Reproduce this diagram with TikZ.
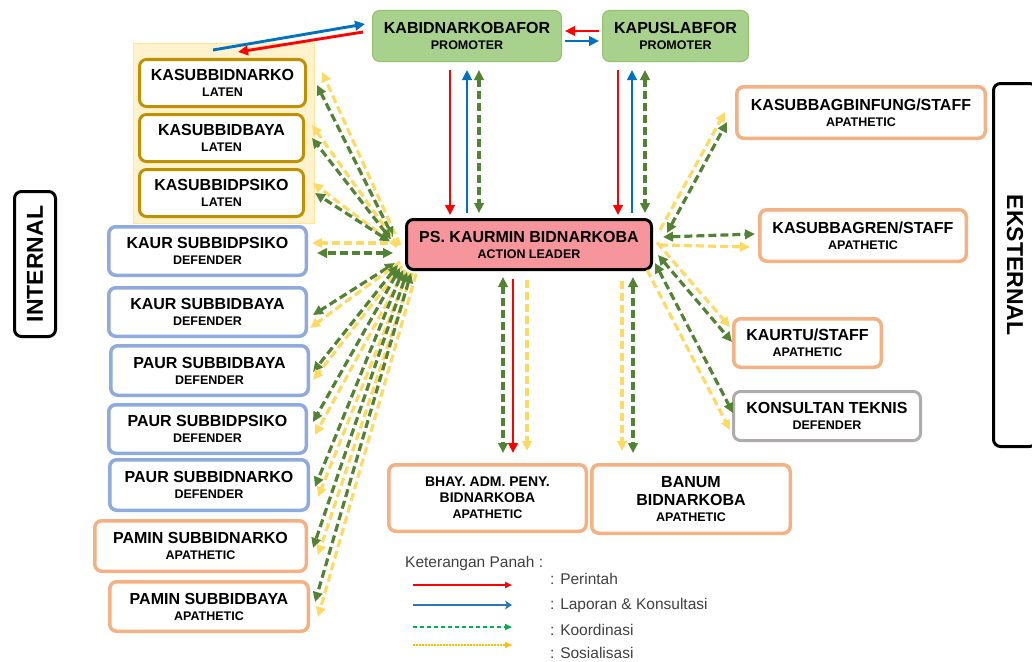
\documentclass[tikz,border=0pt]{standalone}
\usepackage{fontspec}
\setmainfont{Liberation Sans}
\usetikzlibrary{arrows.meta,calc}
\definecolor{cLat}{HTML}{BF9000}
\definecolor{cDef}{HTML}{8FAADC}
\definecolor{cApa}{HTML}{F4B183}
\definecolor{cGry}{HTML}{AFABAB}
\definecolor{cGrnFill}{HTML}{A9D18E}
\definecolor{cGrnDraw}{HTML}{92C06E}
\definecolor{cPink}{HTML}{F7959D}
\definecolor{cKoor}{HTML}{548235}
\definecolor{cSos}{HTML}{FFD966}
\definecolor{cRed}{HTML}{FF0000}
\definecolor{cBlue}{HTML}{0070C0}
\definecolor{cGrpFill}{HTML}{FFF2CC}
\definecolor{cGrpDraw}{HTML}{FFE699}
\definecolor{cLgGreen}{HTML}{00B050}
\definecolor{cLgYellow}{HTML}{FFC000}
\definecolor{cLgBlue}{HTML}{2E75B6}
\definecolor{cLgText}{HTML}{404040}
\newcommand{\twol}[2]{#1\\{\fontsize{12.5}{16}\selectfont #2}}
\begin{document}
\begin{tikzpicture}[x=1pt,y=-1pt,
  box/.style={rounded corners=7, line width=3, fill=white, align=center, inner sep=0,
    font=\bfseries\fontsize{16}{16}\selectfont},
  latbox/.style={box, draw=cLat},
  defbox/.style={box, draw=cDef, line width=3.5},
  apabox/.style={box, draw=cApa, line width=3.5},
  grybox/.style={box, draw=cGry},
  probox/.style={box, draw=cGrnDraw, line width=1, fill=cGrnFill},
  sidebox/.style={rounded corners=7, line width=3, draw=black, inner sep=0,
    font=\bfseries\fontsize{23}{25}\selectfont},
  tipA/.tip={Triangle[length=10pt,width=9.5pt]},
  redarr/.style={draw=cRed, line width=2.9, -tipA},
  bluarr/.style={draw=cBlue, line width=2.9, -tipA},
  koor/.style={draw=cKoor, line width=3.2, dash pattern=on 8pt off 4pt, tipA-tipA},
  sos/.style={draw=cSos, line width=3.2, dash pattern=on 8pt off 4pt, -tipA},
  lgtext/.style={anchor=west, text=cLgText, font=\fontsize{15.5}{17}\selectfont, inner sep=0}
]
\useasboundingbox (0,0) rectangle (1032,661);
\clip (0,0) rectangle (1032,661);

% group background
\node[draw=cGrpDraw, fill=cGrpFill, line width=1, minimum width=181, minimum height=180, inner sep=0] (grp) at (224,133.5) {};

% promoters
\node[probox, minimum width=189, minimum height=51] (kb) at (467,36) {\twol{KABIDNARKOBAFOR}{PROMOTER}};
\node[probox, minimum width=146, minimum height=51] (kp) at (675.5,36) {\twol{KAPUSLABFOR}{PROMOTER}};

% laten
\node[latbox, minimum width=166, minimum height=47] (l1) at (222.5,83) {\twol{KASUBBIDNARKO}{LATEN}};
\node[latbox, minimum width=164, minimum height=47] (l2) at (221.5,138) {\twol{KASUBBIDBAYA}{LATEN}};
\node[latbox, minimum width=164, minimum height=47] (l3) at (221.5,193) {\twol{KASUBBIDPSIKO}{LATEN}};

% defenders
\node[defbox, minimum width=197.5, minimum height=48.5] (d1) at (207.5,251) {\twol{KAUR SUBBIDPSIKO}{DEFENDER}};
\node[defbox, minimum width=197.5, minimum height=48.5] (d2) at (207.5,312) {\twol{KAUR SUBBIDBAYA}{DEFENDER}};
\node[defbox, minimum width=197.5, minimum height=49.5] (d3) at (209.5,370.5) {\twol{PAUR SUBBIDBAYA}{DEFENDER}};
\node[defbox, minimum width=197.5, minimum height=48.5] (d4) at (207.5,429) {\twol{PAUR SUBBIDPSIKO}{DEFENDER}};
\node[defbox, minimum width=198.5, minimum height=50.5] (d5) at (209,485) {\twol{PAUR SUBBIDNARKO}{DEFENDER}};

% apathetic left
\node[apabox, minimum width=211.5, minimum height=50.5] (a1) at (200.5,546) {\twol{PAMIN SUBBIDNARKO}{APATHETIC}};
\node[apabox, minimum width=198.5, minimum height=49.5] (a2) at (209,606.5) {\twol{PAMIN SUBBIDBAYA}{APATHETIC}};

% side labels
\node[sidebox, rotate=90, minimum width=145, minimum height=41] (int) at (35,264) {INTERNAL};
\node[sidebox, rotate=-90, minimum width=363, minimum height=43] (ext) at (1015,265) {EKSTERNAL};

% right boxes
\node[apabox, minimum width=248.5, minimum height=51.5] (r1) at (861,112.5) {\twol{KASUBBAGBINFUNG/STAFF}{APATHETIC}};
\node[apabox, minimum width=206.5, minimum height=51.5] (r2) at (863,235.5) {\twol{KASUBBAGREN/STAFF}{APATHETIC}};
\node[apabox, minimum width=147.5, minimum height=48.5] (r3) at (807.5,343) {\twol{KAURTU/STAFF}{APATHETIC}};
\node[grybox, minimum width=187, minimum height=49] (r4) at (827,416) {\twol{KONSULTAN TEKNIS}{DEFENDER}};

% center
\node[box, draw=black, fill=cPink, minimum width=245, minimum height=50] (c) at (529,244.5) {\twol{PS. KAURMIN BIDNARKOBA}{ACTION LEADER}};

% bottom boxes
\node[apabox, minimum width=197.5, minimum height=66.5] (b1) at (487.5,498)
  {{\fontsize{14}{16.5}\selectfont BHAY. ADM. PENY.}\\{\fontsize{14}{16.5}\selectfont BIDNARKOBA}\\{\fontsize{12.5}{15}\selectfont APATHETIC}};
\node[apabox, minimum width=198.5, minimum height=68.5] (b2) at (691,499)
  {BANUM\\[1.5pt]BIDNARKOBA\\{\fontsize{12.5}{15}\selectfont APATHETIC}};

% ---- arrows top
\draw[redarr] ($(kp.west)+(-3,-5)$) -- ($(kb.east)+(3,-5)$);
\draw[bluarr] ($(kb.east)+(3,5)$) -- ($(kp.west)+(-3,5)$);
\draw[bluarr] ($(grp.north)+(-11,7)$) -- ($(kb.west)+(-7,-12)$);
\draw[redarr] ($(kb.west)+(-9,-4)$) -- ($(grp.north)+(14,9)$);

% kb <-> c
\draw[redarr] ($(kb.south)+(-17,8)$) -- ($(c.north)+(-79,-3)$);
\draw[bluarr] ($(c.north)+(-62,-5)$) -- ($(kb.south)+(0,8)$);
\draw[koor] ($(kb.south)+(12,8)$) -- ($(c.north)+(-50,-5)$);
% kp <-> c
\draw[redarr] ($(kp.south)+(-57.5,8)$) -- ($(c.north)+(89,-3)$);
\draw[bluarr] ($(c.north)+(103,-5)$) -- ($(kp.south)+(-43.5,8)$);
\draw[koor] ($(kp.south)+(-30.5,8)$) -- ($(c.north)+(116,-5)$);

% c -> bottom
\draw[koor] ($(c.south)+(-26,6)$) -- ($(b1.north)+(15.5,-10)$);
\draw[redarr] ($(c.south)+(-16,8)$) -- ($(b1.north)+(25.5,-10)$);
\draw[sos] ($(c.south)+(-2,9)$) -- ($(b1.north)+(39.5,-12)$);
\draw[sos] ($(c.south)+(93,10)$) -- ($(b2.north)+(-69,-12)$);
\draw[koor] ($(c.south)+(104,6)$) -- ($(b2.north)+(-58,-10)$);

% left fan
\draw[sos] ($(c.west)+(-5,0.5)$) -- ($(l1.east)+(15,-11)$);
\draw[koor] ($(c.west)+(-12,-7.5)$) -- ($(l1.east)+(10,2)$);
\draw[sos] ($(c.west)+(-7,1)$) -- ($(l2.east)+(7,-13)$);
\draw[koor] ($(c.west)+(-14,-5)$) -- ($(l2.east)+(7,0)$);
\draw[sos] ($(c.west)+(-8,2)$) -- ($(l3.east)+(8,-10)$);
\draw[koor] ($(c.west)+(-15,-3)$) -- ($(l3.east)+(10,0)$);
\draw[sos] ($(c.west)+(-5,-1.5)$) -- ($(d1.east)+(4,-8)$);
\draw[koor] ($(c.west)+(-12,8.5)$) -- ($(d1.east)+(9,2)$);

\draw[koor] ($(c.south west)+(-10,-8)$) -- ($(d2.east)+(5,3)$);
\draw[sos] ($(c.south west)+(-5,-9)$) -- ($(d2.east)+(2,16)$);
\draw[koor] ($(c.south west)+(-7,-6)$) -- ($(d3.east)+(3,1.5)$);
\draw[sos] ($(c.south west)+(-3,-5)$) -- ($(d3.east)+(3,9.5)$);
\draw[koor] ($(c.south west)+(-5,-3)$) -- ($(d4.east)+(5,-7)$);
\draw[sos] ($(c.south west)+(0,-1)$) -- ($(d4.east)+(7,6)$);
\draw[koor] ($(c.south west)+(-2,-1)$) -- ($(d5.east)+(5,2)$);
\draw[sos] ($(c.south west)+(3,1)$) -- ($(d5.east)+(8,12)$);
\draw[koor] ($(c.south west)+(2,1)$) -- ($(a1.east)+(5,2)$);
\draw[sos] ($(c.south west)+(7,2)$) -- ($(a1.east)+(10,9)$);
\draw[koor] ($(c.south west)+(6,2)$) -- ($(a2.east)+(5,-4.5)$);
\draw[sos] ($(c.south west)+(11,3)$) -- ($(a2.east)+(8,10.5)$);

% right fan
\draw[sos] ($(c.east)+(7,-14.5)$) -- ($(r1.west)+(-10,-0.5)$);
\draw[koor] ($(c.east)+(14,-11.5)$) -- ($(r1.west)+(-8,9.5)$);
\draw[koor] ($(c.east)+(10,-7.5)$) -- ($(r2.west)+(-3,-1.5)$);
\draw[sos] ($(c.east)+(7,0.5)$) -- ($(r2.west)+(-8,11.5)$);
\draw[sos] ($(c.east)+(4,-2)$) -- ($(r3.west)+(-2,-16)$);
\draw[koor] ($(c.east)+(5,10.5)$) -- ($(r3.west)+(0,-1)$);
\draw[koor] ($(c.east)+(2,18.5)$) -- ($(r4.west)+(1,-3)$);
\draw[sos] ($(c.east)+(-6,25.5)$) -- ($(r4.west)+(-2,14)$);

% legend
\node[lgtext] (lgt) at (405,563) {Keterangan Panah :};
\node[lgtext] (lg1) at (550,579) {: Perintah};
\node[lgtext] (lg2) at (550,605) {: Laporan \& Konsultasi};
\node[lgtext] (lg3) at (550,630) {: Koordinasi};
\node[lgtext] (lg4) at (550,653) {: Sosialisasi};
\coordinate (lr1) at (413,585); \coordinate (lr2) at (512,585);
\coordinate (lb1) at (413,605); \coordinate (lb2) at (512,605);
\coordinate (lk1) at (413,627); \coordinate (lk2) at (512,627);
\coordinate (ly1) at (413,645); \coordinate (ly2) at (512,645);
\draw[draw=cRed, line width=1.8, -{Triangle[length=7pt,width=6pt]}] (lr1) -- (lr2);
\draw[draw=cLgBlue, line width=2, -{Stealth[length=7pt,width=9pt,inset=2pt]}] (lb1) -- (lb2);
\draw[draw=cLgGreen, line width=1.8, dash pattern=on 4pt off 3pt, -{Triangle[length=7pt,width=6pt]}] (lk1) -- (lk2);
\draw[draw=cLgYellow, line width=1.8, dash pattern=on 1.5pt off 1.5pt, -{Triangle[length=7pt,width=6pt]}] (ly1) -- (ly2);
\end{tikzpicture}
\end{document}
